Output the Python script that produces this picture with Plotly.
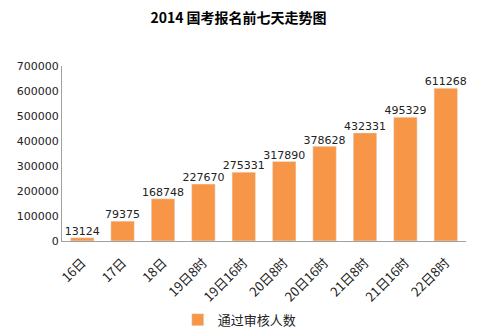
import plotly.graph_objects as go

categories = ["16日", "17日", "18日", "19日8时", "19日16时", "20日8时", "20日16时", "21日8时", "21日16时", "22日8时"]
values = [13124, 79375, 168748, 227670, 275331, 317890, 378628, 432331, 495329, 611268]
series_name = "通过审核人数"
title_text = "2014 国考报名前七天走势图"
tick_vals = [0, 100000, 200000, 300000, 400000, 500000, 600000, 700000]

fig = go.Figure()
fig.add_trace(go.Bar(
    x=categories, y=values, name=series_name,
    marker_color="#F79646",
))
fig.add_trace(go.Scatter(
    x=categories, y=values, mode="text", showlegend=False,
    text=[str(v) for v in values], textposition="top center",
    textfont=dict(size=11, color="#222", family="DejaVu Sans"),
    cliponaxis=False, hoverinfo="skip",
))
fig.update_layout(
    width=477, height=332,
    margin=dict(l=62, r=11, t=66, b=91, autoexpand=False),
    paper_bgcolor="white", plot_bgcolor="white",
    title=dict(text="<b>" + title_text + "</b>", x=0.5, xanchor="center", y=0.945, yanchor="middle",
               font=dict(size=14, color="#000", family="Noto Sans CJK SC")),
    bargap=0.42,
    showlegend=True,
    legend=dict(orientation="h", x=0.44, xanchor="center", y=-0.45, yanchor="middle",
                font=dict(size=13, color="#222", family="Noto Sans CJK SC"),
                itemwidth=30),
    font=dict(family="DejaVu Sans", size=11, color="#222"),
)
fig.update_xaxes(showline=True, linecolor="#A0A0A0", tickangle=-45, showgrid=False,
                 tickfont=dict(size=13, family="Noto Sans CJK SC", color="#222"), ticks="",
                 ticklabelstandoff=8, automargin=False)
fig.update_yaxes(showline=True, linecolor="#A0A0A0", range=[0, 700000], tickvals=tick_vals,
                 tickformat="d", showgrid=False, zeroline=False, ticks="", automargin=False,
                 tickfont=dict(size=11, family="DejaVu Sans"))
fig.write_html("out.html")
